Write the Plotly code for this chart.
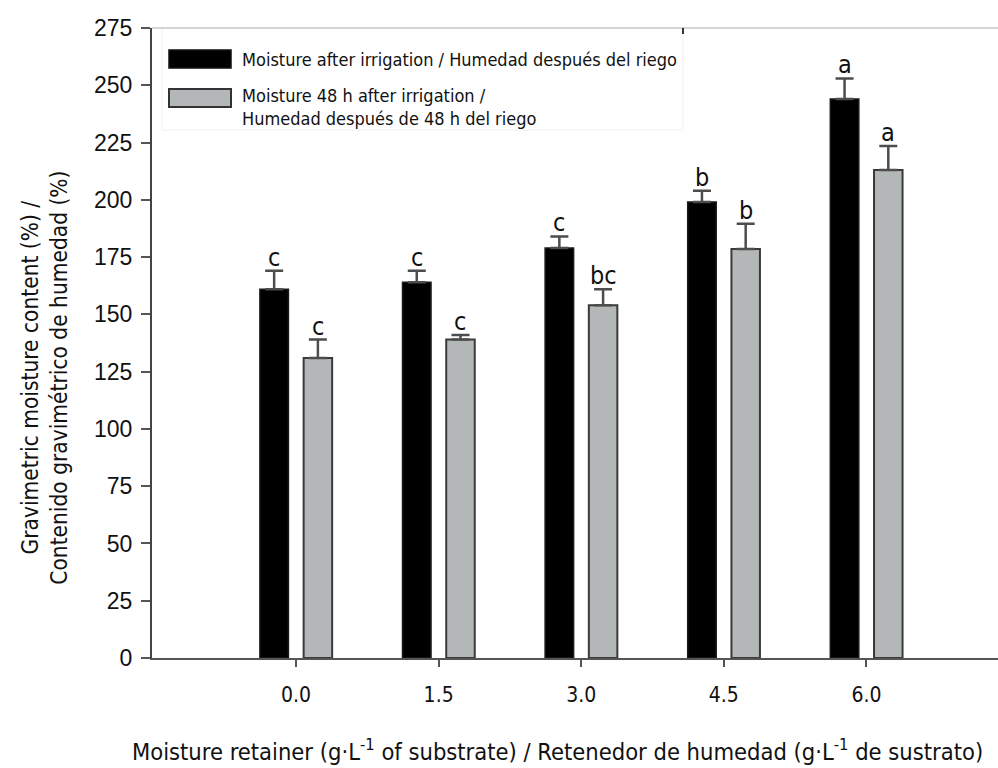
import plotly.graph_objects as go

# Moisture retainer dose (g·L-1 of substrate)
doses = [0.0, 1.5, 3.0, 4.5, 6.0]
dose_labels = ["0.0", "1.5", "3.0", "4.5", "6.0"]

# Gravimetric moisture content (%) right after irrigation
after_irrigation = [161, 164, 179, 199, 244]
after_irrigation_err = [8, 5, 5, 5, 9]
after_irrigation_letters = ["c", "c", "c", "b", "a"]

# Gravimetric moisture content (%) 48 h after irrigation
after_48h = [131, 139, 154, 178.5, 213]
after_48h_err = [8, 2, 7, 11, 10.5]
after_48h_letters = ["c", "c", "bc", "b", "a"]

y_ticks = list(range(0, 276, 25))

NARROW = "Liberation Sans Narrow, Arial Narrow, DejaVu Sans Condensed, sans-serif"
REGULAR = "Liberation Sans, Arial, Helvetica, sans-serif"

BAR_W = 0.30
OFF_BLACK = -0.38
OFF_GRAY = 0.08

# plot area in pixels (used for the hand-drawn legend)
L, T, B, R = 152, 28, 658, 998


def px_x(p):
    return (p - L) / (R - L)


def px_y(p):
    return (B - p) / (B - T)


fig = go.Figure()

fig.add_trace(go.Bar(
    x=doses, y=after_irrigation, width=BAR_W, offset=OFF_BLACK,
    marker=dict(color="#000000", line=dict(color="#1a1a1a", width=1.5)),
    error_y=dict(type="data", array=after_irrigation_err,
                 arrayminus=[0] * len(doses), symmetric=False,
                 color="#4d4d4d", thickness=2.5, width=9),
    name="Moisture after irrigation / Humedad después del riego",
    showlegend=False,
))
fig.add_trace(go.Bar(
    x=doses, y=after_48h, width=BAR_W, offset=OFF_GRAY,
    marker=dict(color="#b4b7b7", line=dict(color="#3a3a3a", width=2)),
    error_y=dict(type="data", array=after_48h_err,
                 arrayminus=[0] * len(doses), symmetric=False,
                 color="#4d4d4d", thickness=2.5, width=9),
    name="Moisture 48 h after irrigation / Humedad después de 48 h del riego",
    showlegend=False,
))

annotations = []
# Significance letters above each error bar
for offs, vals, errs, letters in (
    (OFF_BLACK, after_irrigation, after_irrigation_err, after_irrigation_letters),
    (OFF_GRAY, after_48h, after_48h_err, after_48h_letters),
):
    for x, v, e, t in zip(doses, vals, errs, letters):
        annotations.append(dict(
            x=x + offs + BAR_W / 2, y=v + e, text=t, showarrow=False,
            xref="x", yref="y", yanchor="bottom", yshift=-3,
            font=dict(family=NARROW, size=25, color="#111")))

# Axis titles
annotations.append(dict(
    x=-0.128, y=px_y(378), xref="paper", yref="paper", xanchor="center", yanchor="middle",
    text="Gravimetric moisture content (%) /<br>Contenido gravimétrico de humedad (%)",
    textangle=-90, showarrow=False,
    font=dict(family=NARROW, size=22.5, color="#111")))
annotations.append(dict(
    x=px_x(130), y=px_y(750), xref="paper", yref="paper", xanchor="left", yanchor="middle",
    text="Moisture retainer (g·L<sup>-1</sup> of substrate) / Retenedor de humedad (g·L<sup>-1</sup> de sustrato)",
    showarrow=False, font=dict(family=NARROW, size=23.5, color="#111")))

# Legend labels
annotations.append(dict(
    x=px_x(240), y=px_y(59), xref="x domain", yref="y domain",
    xanchor="left", yanchor="middle", showarrow=False,
    text="Moisture after irrigation / Humedad después del riego",
    font=dict(family=NARROW, size=18, color="#111")))
annotations.append(dict(
    x=px_x(240), y=px_y(107), xref="x domain", yref="y domain",
    xanchor="left", yanchor="middle", showarrow=False, align="left",
    text="Moisture 48 h after irrigation /<br>Humedad después de 48 h del riego",
    font=dict(family=NARROW, size=18, color="#111")))

shapes = [
    # legend frame (very faint)
    dict(type="rect", xref="x domain", yref="y domain",
         x0=px_x(162), x1=px_x(683), y0=px_y(130), y1=px_y(28),
         line=dict(color="#eeeeee", width=1), fillcolor="rgba(0,0,0,0)", layer="below"),
    dict(type="rect", xref="x domain", yref="y domain",
         x0=px_x(169), x1=px_x(231), y0=px_y(68), y1=px_y(50),
         line=dict(color="#111", width=1.5), fillcolor="#000000"),
    dict(type="rect", xref="x domain", yref="y domain",
         x0=px_x(169), x1=px_x(231), y0=px_y(107), y1=px_y(89),
         line=dict(color="#333", width=2), fillcolor="#b4b7b7"),
    # faint top border
    dict(type="line", xref="x domain", yref="y domain",
         x0=0, x1=1, y0=1, y1=1, line=dict(color="#c8c8c8", width=1.5)),
    dict(type="line", xref="x domain", yref="y domain",
         x0=px_x(683), x1=px_x(683), y0=1, y1=px_y(34), line=dict(color="#333", width=2)),
]

fig.update_layout(
    width=998, height=768,
    margin=dict(l=L, r=998 - R, t=T, b=768 - B),
    paper_bgcolor="white", plot_bgcolor="white",
    barmode="overlay",
    annotations=annotations,
    shapes=shapes,
    xaxis=dict(
        range=[-1.515, 7.384], tickvals=doses, ticktext=dose_labels,
        showgrid=False, zeroline=False, showline=True, linecolor="#555", linewidth=2,
        ticks="outside", ticklen=7, tickwidth=2, tickcolor="#555",
        tickfont=dict(family=NARROW, size=21, color="#111"),
        ticklabelstandoff=10,
    ),
    yaxis=dict(
        range=[0, 275], tickvals=y_ticks,
        showgrid=False, zeroline=False, showline=True, linecolor="#444", linewidth=2,
        ticks="outside", ticklen=9, tickwidth=2, tickcolor="#555",
        tickfont=dict(family=REGULAR, size=23, color="#111"),
        ticklabelstandoff=4,
    ),
)

fig.write_html("out.html")
